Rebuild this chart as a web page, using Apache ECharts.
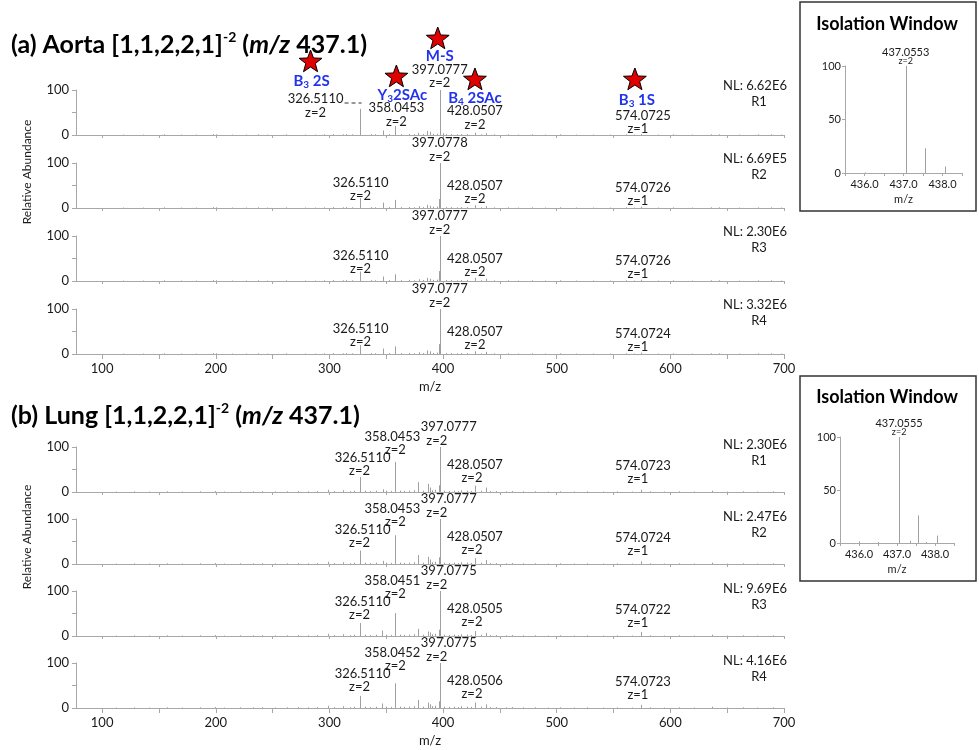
<!DOCTYPE html>
<html><head><meta charset="utf-8">
<script src="https://cdn.jsdelivr.net/npm/echarts@6/dist/echarts.min.js"></script>
<style>html,body{margin:0;padding:0;background:#fff}#c{width:979px;height:750px}</style>
</head><body><div id="c"></div>
<script>
// ---------------- DATA ----------------
const mzTickValues = [100,150,200,250,300,350,400,450,500,550,600,650,700];
const mzLabelValues = [100,200,300,400,500,600,700];
const isoTickLabels = [436.0, 437.0, 438.0];

const aortaNoise = [[118.5,1],[136,1],[154,1.5],[169,1],[183,1],[197.8,2],[200.5,1.5],[214,1],[227,1],[237,1.5],[245.5,1],[262,1.5],[278.6,1],[287,1],[295,1.5],[303,2],[312,1.5],[315,2],[320,1.5],[336.6,2],[340,1.5],[352,2],[363,2],[370,2.5],[374,1.5],[382,2],[391,2.5],[394.6,3],[403,2],[407,2],[412,1.5],[415.6,2],[420.7,2],[433,1.5],[445,1.5],[457,1.5],[466,1],[478,1.5],[490,1],[503,1.5],[517,1],[532,1],[547,1],[561,1.5],[568,1],[589,1],[602,1.5],[619,1],[635.6,1.5],[643,1.5],[660,1],[677,1.5],[689,1.5],[697,1]];
const lungNoise = [[112,1],[128,1.5],[141,1],[157,1.5],[170,1],[186,1.5],[199,2],[207,1],[221,1.5],[233,1.5],[241,2],[252,1],[263,1.5],[272,2],[281,1.5],[289,2],[298.5,5],[304,2],[312,4],[318,2],[322,2.5],[331,3],[336,2],[341,3],[350,3],[354,2.5],[362,3],[366,2.5],[370,3],[374,4],[382,3],[390,4],[393,5],[401,3],[405,2.5],[410,3],[413,2],[421,3],[425,2.5],[433,3],[441,2],[447,2],[455,1.5],[461,2],[470,1.5],[481,1.5],[492,1],[503,1.5],[515,1],[527,1.5],[541,1],[553,1.5],[566,1],[582,1.5],[594,1],[608,1.5],[621,1],[637,3],[650,1],[664,1.5],[676,1],[690,1.5]];

const aortaR1 = [[326.511,58],[347.05,10],[358.045,20],[378.05,5],[386.3,9],[388.5,7],[397.078,100],[400.0,4],[428.051,5],[437.7,4],[574.073,2]];
const aortaR2 = [[326.511,22],[347.05,12],[358.045,18],[379,4],[386.3,7],[388.5,5],[396.5,20],[397.078,100],[428.051,6],[437.7,4],[574.073,3]];
const aortaR3 = [[326.511,21],[347.05,10],[358.045,15],[379,4],[386.3,7],[388.5,5],[396.5,22],[397.078,100],[428.051,7],[437.7,5],[574.073,3]];
const aortaR4 = [[326.511,20],[347.05,12],[358.045,17],[379,4],[386.3,8],[388.5,6],[396.5,22],[397.078,100],[428.051,6],[437.7,5],[574.073,3]];

const lungR1 = [[326.511,33],[346.8,6],[358.045,67],[378,22],[386.8,18],[388.5,10],[396.5,15],[397.078,100],[416,4],[428.051,14],[437.7,10],[574.072,5]];
const lungR2 = [[326.511,30],[346.8,7],[358.045,64],[378,20],[386.8,16],[388.5,10],[396.5,15],[397.078,100],[416,4],[428.051,13],[437.7,9],[574.072,6]];
const lungR3 = [[326.511,29],[346.2,12],[358.045,51],[378,16],[386.5,10],[388.5,8],[396.5,14],[397.078,100],[416,4],[428.05,11],[437.7,7],[574.072,9]];
const lungR4 = [[326.511,27],[346.5,10],[358.045,55],[378,18],[386.5,12],[388.5,8],[396.5,15],[397.078,100],[416,4],[428.051,12],[437.7,8],[574.072,7]];

const aortaIso = [[436.0,0.5],[437.0553,100],[437.557,23],[438.058,6]];
const lungIso = [[436.0,1.5],[436.5,1],[437.0555,100],[437.35,2],[437.557,26],[437.75,1],[438.058,7]];

const aortaNL = ['NL: 6.62E6','NL: 6.69E5','NL: 2.30E6','NL: 3.32E6'];
const lungNL  = ['NL: 2.30E6','NL: 2.47E6','NL: 9.69E6','NL: 4.16E6'];
const replicates = ['R1','R2','R3','R4'];

// peak labels: [mz, m/z text, charge text]
const aortaPeakLabels = [
  [[326.511,'326.5110','z=2'],[358.0453,'358.0453','z=2'],[397.0777,'397.0777','z=2'],[428.0507,'428.0507','z=2'],[574.0725,'574.0725','z=1']],
  [[397.0778,'397.0778','z=2'],[326.511,'326.5110','z=2'],[428.0507,'428.0507','z=2'],[574.0726,'574.0726','z=1']],
  [[397.0777,'397.0777','z=2'],[326.511,'326.5110','z=2'],[428.0507,'428.0507','z=2'],[574.0726,'574.0726','z=1']],
  [[397.0777,'397.0777','z=2'],[326.511,'326.5110','z=2'],[428.0507,'428.0507','z=2'],[574.0724,'574.0724','z=1']]
];
const lungPeakLabels = [
  [[397.0777,'397.0777','z=2'],[358.0453,'358.0453','z=2'],[326.511,'326.5110','z=2'],[428.0507,'428.0507','z=2'],[574.0723,'574.0723','z=1']],
  [[397.0777,'397.0777','z=2'],[358.0453,'358.0453','z=2'],[326.511,'326.5110','z=2'],[428.0507,'428.0507','z=2'],[574.0724,'574.0724','z=1']],
  [[397.0775,'397.0775','z=2'],[358.0451,'358.0451','z=2'],[326.511,'326.5110','z=2'],[428.0505,'428.0505','z=2'],[574.0722,'574.0722','z=1']],
  [[397.0775,'397.0775','z=2'],[358.0452,'358.0452','z=2'],[326.511,'326.5110','z=2'],[428.0506,'428.0506','z=2'],[574.0723,'574.0723','z=1']]
];
// fragment assignments (aorta R1): [mz, base, subscript, rest]
const fragments = [[326.511,'B','3',' 2S'],[358.0453,'Y','3','2SAc'],[397.0777,'M-S','',''],[428.0507,'B','4',' 2SAc'],[574.0725,'B','3',' 1S']];
const isoLabels = [['437.0553','z=2'],['437.0555','z=2']];

// ---------------- LAYOUT ----------------
const FONT = 'Lato, "Noto Sans", sans-serif';
const TXT = '#1a1a1a';
const AX = '#a8a8a8';
const PEAK = '#a0a0a0';

const mainGrids = [
  {top:90},{top:163},{top:236},{top:309},
  {top:447},{top:519},{top:591},{top:663}
];
const spectra = [aortaR1,aortaR2,aortaR3,aortaR4,lungR1,lungR2,lungR3,lungR4];
const noiseFor = i => i < 4 ? aortaNoise : lungNoise;

const grids = [], xAxes = [], yAxes = [], series = [];
function peakRender(params, api){
  const p0 = api.coord([api.value(0), 0]);
  const p1 = api.coord([api.value(0), api.value(1)]);
  const x = Math.round(p0[0]) + 0.5;
  return {type:'line', shape:{x1:x,y1:p0[1],x2:x,y2:p1[1]}, style:{stroke:PEAK,lineWidth:1}};
}
mainGrids.forEach((g, i) => {
  const bottom = (i === 3 || i === 7);
  grids.push({left:76, top:g.top, width:708, height:45});
  xAxes.push({
    type:'value', gridIndex:i, min:77, max:700,
    axisLine:{lineStyle:{color:AX,width:1}},
    axisTick:{show:true, length:bottom?5:3, customValues:mzTickValues, lineStyle:{color:AX}},
    axisLabel:{show:bottom, customValues:mzLabelValues, fontSize:13, fontFamily:FONT, color:TXT, margin:8},
    splitLine:{show:false},
    name: bottom ? 'm/z' : '', nameLocation:'middle', nameGap:26,
    nameTextStyle:{fontSize:13, fontFamily:FONT, color:TXT}
  });
  yAxes.push({
    type:'value', gridIndex:i, min:0, max:100, interval:50,
    axisLine:{show:true, lineStyle:{color:AX,width:1}},
    axisTick:{show:true, length:4, lineStyle:{color:AX}},
    axisLabel:{fontSize:13, fontFamily:FONT, color:TXT, margin:7, formatter:v => v===50 ? '' : String(v)},
    splitLine:{show:false}
  });
  series.push({type:'custom', xAxisIndex:i, yAxisIndex:i, renderItem:peakRender,
    data: noiseFor(i).concat(spectra[i]), silent:true, animation:false});
});
// isolation window insets
const isoGrids = [{left:845, top:66, width:117, height:107}, {left:840, top:437, width:114, height:106}];
const isoData = [aortaIso, lungIso];
isoGrids.forEach((g, k) => {
  const i = 8 + k;
  grids.push(g);
  xAxes.push({
    type:'value', gridIndex:i, min:435.5, max:438.5, interval:0.5,
    axisLine:{lineStyle:{color:AX}},
    axisTick:{length:3, lineStyle:{color:AX}},
    axisLabel:{fontSize:11, fontFamily:FONT, color:TXT, margin:6,
      formatter:v => isoTickLabels.includes(v) ? v.toFixed(1) : ''},
    splitLine:{show:false},
    name:'m/z', nameLocation:'middle', nameGap:21,
    nameTextStyle:{fontSize:11, fontFamily:FONT, color:TXT}
  });
  yAxes.push({
    type:'value', gridIndex:i, min:0, max:100, interval:50,
    axisLine:{show:true, lineStyle:{color:AX}},
    axisTick:{length:3, lineStyle:{color:AX}},
    axisLabel:{fontSize:11, fontFamily:FONT, color:TXT, margin:4},
    splitLine:{show:false}
  });
  series.push({type:'custom', xAxisIndex:i, yAxisIndex:i, renderItem:peakRender,
    data: isoData[k], silent:true, animation:false});
});

const chart = echarts.init(document.getElementById('c'), null, {renderer:'canvas'});
chart.setOption({animation:false, backgroundColor:'#fff', grid:grids, xAxis:xAxes, yAxis:yAxes, series:series});

// ---------------- ANNOTATIONS ----------------
const G = [];
function txt(x, y, text, size, opts){
  const o = Object.assign({fill:TXT, weight:'normal', align:'center', rotation:0}, opts||{});
  G.push({type:'text', x:x, y:y, rotation:o.rotation, silent:true, z:100,
    style:{text:text, fill:o.fill, font:o.weight+' '+size+'px '+FONT,
      align:o.align, verticalAlign:'middle', textAlign:o.align, textVerticalAlign:'middle'}});
}
function px(gi, mz, v){ return chart.convertToPixel({gridIndex:gi}, [mz, v]); }

// titles (rich text)
function title(y, tissue){
  G.push({type:'text', x:11, y:y, silent:true, z:100,
    style:{text:'{b|'+tissue+' [1,1,2,2,1]}{sup|-2}{b| (}{i|m/z}{b| 437.1)}',
      align:'left', verticalAlign:'middle', textAlign:'left', textVerticalAlign:'middle',
      rich:{
        b:{fontFamily:FONT, fontWeight:'bold', fontSize:25, lineHeight:30, fill:'#000', color:'#000'},
        i:{fontFamily:FONT, fontWeight:'bold', fontStyle:'italic', fontSize:25, lineHeight:30, fill:'#000', color:'#000'},
        sup:{fontFamily:FONT, fontWeight:'bold', fontSize:14, lineHeight:15, verticalAlign:'top', fill:'#000', color:'#000'}
      }}});
}
title(45, '(a) Aorta');
title(416, '(b) Lung');

// axis titles
txt(27, 172, 'Relative Abundance', 12, {rotation:Math.PI/2});
txt(27, 537, 'Relative Abundance', 12, {rotation:Math.PI/2});

// label offsets [dxNum, dyNum, dxZ, dyZ] relative to (peak x, 100% level)
const offA1 = {'326.5110':[-44,9,-44,23],'358.0453':[1,18,1,32],'397.0777':[0,-20,0,-7],'428.0507':[0,21,0,35],'574.0725':[2,26,-3,39]};
function offAorta(t){ if(t.startsWith('397')) return [0,-20,0,-6]; if(t.startsWith('326')) return [1,20,1,33]; if(t.startsWith('428')) return [0,23,0,36]; return [2,25,-3,38]; }
function offLung(t){ if(t.startsWith('397')) return [9,-20,-3,-6]; if(t.startsWith('358')) return [-3,-10,0,3]; if(t.startsWith('326')) return [3,11,0,24]; if(t.startsWith('428')) return [0,18,-3,31]; return [2,19,-3,32]; }

function panelLabels(gi, list, offFn){
  list.forEach(([mz, a, b]) => {
    const p = px(gi, mz, 100);
    const o = offFn(a);
    txt(p[0]+o[0], p[1]+o[1], a, 13);
    txt(p[0]+o[2], p[1]+o[3], b, 13);
  });
}
aortaPeakLabels.forEach((list, r) => panelLabels(r, list, r===0 ? (t => offA1[t]) : offAorta));
lungPeakLabels.forEach((list, r) => panelLabels(4+r, list, offLung));

// NL and replicate tags
for (let r=0; r<4; r++){
  const pa = px(r, 700, 100), pl = px(4+r, 700, 100);
  txt(pa[0]-29, pa[1]-4, aortaNL[r], 13); txt(pa[0]-25, pa[1]+12, replicates[r], 13);
  txt(pl[0]-29, pl[1]-2, lungNL[r], 13); txt(pl[0]-25, pl[1]+14, replicates[r], 13);
}

// dashed leader for 326.5110 in aorta R1
{ const p = px(0, 326.511, 100); G.push({type:'line', silent:true, z:100,
  shape:{x1:p[0]-15, y1:p[1]+13, x2:p[0]+2, y2:p[1]+13}, style:{stroke:'#333', lineWidth:1, lineDash:[4,3]}}); }

// fragment labels + stars (aorta R1)
const fragOff = {'326.511':[-48,-9,-49,-28],'358.0453':[7,5,1,-13],'397.0777':[0,-34,-2,-51],'428.0507':[0,8,0,-10],'574.0725':[-4,10,-6,-10]};
function starPoints(cx, cy, R, r){ const pts=[]; for(let k=0;k<10;k++){ const a=-Math.PI/2+k*Math.PI/5; const rr=k%2?r:R; pts.push([cx+rr*Math.cos(a), cy+rr*Math.sin(a)]);} return pts; }
fragments.forEach(([mz, base, sub, rest]) => {
  const p = px(0, mz, 100);
  const o = fragOff[String(mz)];
  const BLUE = '#2233ee';
  let rt = '{b|'+base+'}' + (sub ? '{s|'+sub+'}' : '') + (rest ? '{b|'+rest+'}' : '');
  G.push({type:'text', x:p[0]+o[0], y:p[1]+o[1], silent:true, z:100,
    style:{text:rt, align:'center', verticalAlign:'middle', textAlign:'center', textVerticalAlign:'middle',
      rich:{
        b:{fontFamily:FONT, fontWeight:'bold', fontSize:15, lineHeight:18, fill:BLUE, color:BLUE},
        s:{fontFamily:FONT, fontWeight:'bold', fontSize:10, lineHeight:10, verticalAlign:'bottom', fill:BLUE, color:BLUE}
      }}});
  G.push({type:'polygon', silent:true, z:100, shape:{points:starPoints(p[0]+o[2], p[1]+o[3], 12, 5)},
    style:{fill:'#e00000', stroke:'#000', lineWidth:1}});
});

// isolation window boxes, titles and labels
const boxes = [{x:800,y:2,w:176,h:209,ty:24},{x:800,y:376,w:176,h:205,ty:397}];
boxes.forEach((b, k) => {
  G.push({type:'rect', silent:true, z:90, shape:{x:b.x, y:b.y, width:b.w, height:b.h}, style:{fill:null, stroke:'#333', lineWidth:1.5}});
  txt(b.x + b.w/2 - 1, b.ty, 'Isolation Window', 18, {weight:'bold', fill:'#000'});
  const peak = isoData[k].reduce((m, d) => d[1] > m[1] ? d : m);
  const p = px(8+k, peak[0], 100);
  txt(p[0], p[1]-14, isoLabels[k][0], 11);
  txt(p[0], p[1]-5, isoLabels[k][1], 9);
});

chart.setOption({graphic:{elements:G}});
</script>
</body></html>
